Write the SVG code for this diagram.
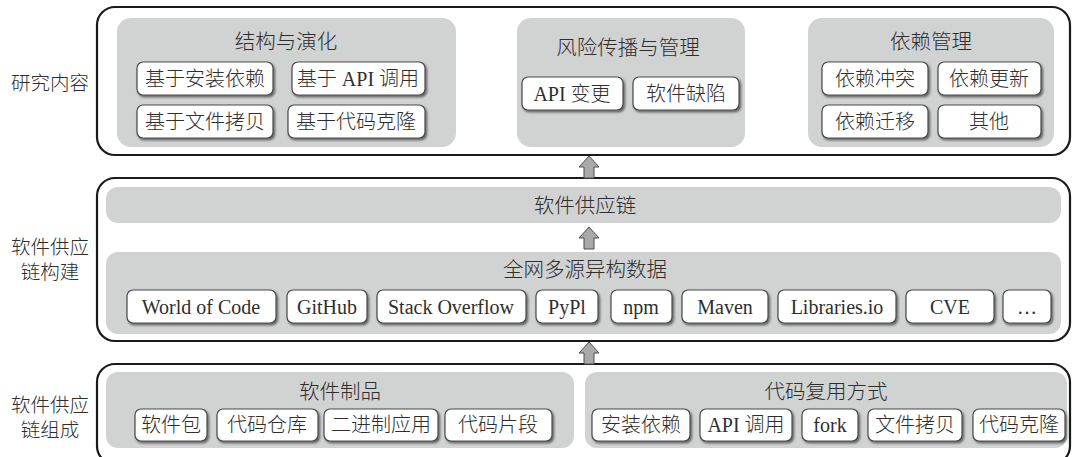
<svg xmlns="http://www.w3.org/2000/svg" width="1074" height="457" viewBox="0 0 1074 457">
<defs>
<filter id="sh" x="-10%" y="-20%" width="125%" height="150%">
<feDropShadow dx="1.5" dy="1.8" stdDeviation="1.2" flood-color="#000" flood-opacity="0.55"/>
</filter>
<path id="arrow" d="M0,0 L10,11 L5,11 L5,22 L-5,22 L-5,11 L-10,11 Z"/>
</defs>
<style>
text{font-family:"Liberation Serif","Noto Sans CJK SC",serif;font-size:20px;font-weight:300;fill:#2e2e2e;text-anchor:middle;dominant-baseline:central}
.title{font-size:20.5px}
.side{font-size:19.5px}
.outer{fill:#fff;stroke:#1a1a1a;stroke-width:2.2}
.panel{fill:#d1d2d2}
.item{fill:#fff;stroke:#4a4a4a;stroke-width:1.2;filter:url(#sh)}
.arr{fill:#a9a9a9;stroke:#4d4d4d;stroke-width:1}
</style>

<g id="layer-research">
<rect class="outer" x="97" y="7" width="973" height="148" rx="18"/>
<text class="side" x="50" y="83">研究内容</text>
</g>
<g id="layer-build">
<rect class="outer" x="97" y="178" width="973" height="163" rx="18"/>
<text class="side" x="50" y="247">软件供应</text>
<text class="side" x="50" y="272">链构建</text>
</g>
<g id="layer-compose">
<rect class="outer" x="97" y="364" width="973" height="100" rx="18"/>
<text class="side" x="50" y="405">软件供应</text>
<text class="side" x="50" y="430">链组成</text>
</g>

<g id="panel-structure">
<rect class="panel" x="117" y="18" width="339" height="129" rx="14"/>
<text class="title" x="286" y="42">结构与演化</text>
<g id="n-install"><rect class="item" x="137" y="62" width="136" height="33" rx="6"/><text x="205" y="79">基于安装依赖</text></g>
<g id="n-apicall"><rect class="item" x="292" y="62" width="133" height="33" rx="6"/><text x="358" y="79">基于 API 调用</text></g>
<g id="n-filecopy"><rect class="item" x="137" y="105" width="136" height="33" rx="6"/><text x="205" y="122">基于文件拷贝</text></g>
<g id="n-clone"><rect class="item" x="288" y="105" width="137" height="33" rx="6"/><text x="356" y="122">基于代码克隆</text></g>
</g>

<g id="panel-risk">
<rect class="panel" x="517" y="18" width="228" height="129" rx="14"/>
<text class="title" x="628" y="48">风险传播与管理</text>
<g id="n-apichange"><rect class="item" x="522" y="77" width="101" height="33" rx="6"/><text x="572" y="94">API 变更</text></g>
<g id="n-defect"><rect class="item" x="633" y="77" width="106" height="33" rx="6"/><text x="686" y="94">软件缺陷</text></g>
</g>

<g id="panel-dep">
<rect class="panel" x="808" y="18" width="246" height="129" rx="14"/>
<text class="title" x="931" y="42">依赖管理</text>
<g id="n-conflict"><rect class="item" x="822" y="62" width="106" height="33" rx="6"/><text x="875" y="79">依赖冲突</text></g>
<g id="n-update"><rect class="item" x="938" y="62" width="103" height="33" rx="6"/><text x="989" y="79">依赖更新</text></g>
<g id="n-migrate"><rect class="item" x="822" y="105" width="106" height="33" rx="6"/><text x="875" y="122">依赖迁移</text></g>
<g id="n-other"><rect class="item" x="938" y="105" width="103" height="33" rx="6"/><text x="989" y="122">其他</text></g>
</g>

<g id="panel-sc">
<rect class="panel" x="106" y="187" width="955" height="36" rx="12"/>
<text class="title" x="585" y="206">软件供应链</text>
</g>

<g id="panel-data">
<rect class="panel" x="106" y="252" width="955" height="82" rx="12"/>
<text class="title" x="585" y="270">全网多源异构数据</text>
<g id="n-woc"><rect class="item" x="127" y="290" width="149" height="33" rx="6"/><text x="201" y="307">World of Code</text></g>
<g id="n-github"><rect class="item" x="287" y="290" width="80" height="33" rx="6"/><text x="327" y="307">GitHub</text></g>
<g id="n-so"><rect class="item" x="377" y="290" width="149" height="33" rx="6"/><text x="451" y="307">Stack Overflow</text></g>
<g id="n-pypi"><rect class="item" x="536" y="290" width="62" height="33" rx="6"/><text x="567" y="307">PyPl</text></g>
<g id="n-npm"><rect class="item" x="611" y="290" width="61" height="33" rx="6"/><text x="641" y="307">npm</text></g>
<g id="n-maven"><rect class="item" x="682" y="290" width="86" height="33" rx="6"/><text x="725" y="307">Maven</text></g>
<g id="n-libio"><rect class="item" x="778" y="290" width="118" height="33" rx="6"/><text x="837" y="307">Libraries.io</text></g>
<g id="n-cve"><rect class="item" x="906" y="290" width="88" height="33" rx="6"/><text x="950" y="307">CVE</text></g>
<g id="n-more"><rect class="item" x="1003" y="290" width="48" height="33" rx="6"/><text x="1027" y="307">…</text></g>
</g>

<g id="panel-artifact">
<rect class="panel" x="106" y="372" width="468" height="76" rx="12"/>
<text class="title" x="340" y="392">软件制品</text>
<g id="n-pkg"><rect class="item" x="135" y="409" width="72" height="32" rx="6"/><text x="171" y="425">软件包</text></g>
<g id="n-repo"><rect class="item" x="217" y="409" width="101" height="32" rx="6"/><text x="267" y="425">代码仓库</text></g>
<g id="n-binary"><rect class="item" x="324" y="409" width="114" height="32" rx="6"/><text x="381" y="425">二进制应用</text></g>
<g id="n-snippet"><rect class="item" x="445" y="409" width="107" height="32" rx="6"/><text x="498" y="425">代码片段</text></g>
</g>

<g id="panel-reuse">
<rect class="panel" x="585" y="372" width="482" height="76" rx="12"/>
<text class="title" x="826" y="392">代码复用方式</text>
<g id="n-rinstall"><rect class="item" x="592" y="409" width="98" height="32" rx="6"/><text x="641" y="425">安装依赖</text></g>
<g id="n-rapi"><rect class="item" x="700" y="409" width="92" height="32" rx="6"/><text x="746" y="425">API 调用</text></g>
<g id="n-fork"><rect class="item" x="802" y="409" width="56" height="32" rx="6"/><text x="830" y="425">fork</text></g>
<g id="n-rcopy"><rect class="item" x="868" y="409" width="94" height="32" rx="6"/><text x="915" y="425">文件拷贝</text></g>
<g id="n-rclone"><rect class="item" x="973" y="409" width="92" height="32" rx="6"/><text x="1019" y="425">代码克隆</text></g>
</g>

<g id="connectors">
<use href="#arrow" class="arr" transform="translate(589,156)"/>
<use href="#arrow" class="arr" transform="translate(589,227)"/>
<use href="#arrow" class="arr" transform="translate(589,342)"/>
</g>
</svg>
